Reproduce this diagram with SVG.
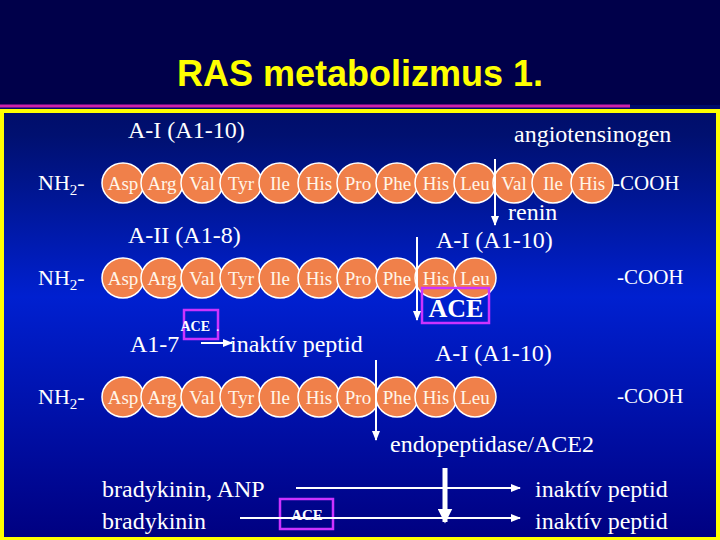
<svg xmlns="http://www.w3.org/2000/svg" width="720" height="540" viewBox="0 0 720 540">
<defs>
<linearGradient id="bg" x1="0" y1="0" x2="0" y2="1"><stop offset="0" stop-color="#000050"/><stop offset="0.25" stop-color="#001070"/><stop offset="0.55" stop-color="#0020d0"/><stop offset="1" stop-color="#000080"/></linearGradient>
<marker id="ah" viewBox="0 0 10 10" refX="9" refY="5" markerWidth="5" markerHeight="5" orient="auto"><path d="M0,1 L10,5 L0,9 z" fill="#fff"/></marker>
<marker id="ahb" viewBox="0 0 10 10" refX="9" refY="5" markerWidth="3" markerHeight="3" orient="auto"><path d="M0,0 L10,5 L0,10 z" fill="#fff"/></marker>
<g id="c"><ellipse cx="0" cy="0" rx="21" ry="20" fill="#f0804a" stroke="#fff" stroke-width="1.5"/></g>
</defs>
<style>
text{fill:#fff;font-family:"Times New Roman",Times,"Liberation Serif","DejaVu Serif",serif}
text.title{font-family:"Liberation Sans",Arial,sans-serif;fill:#ffff00}
.t{font-size:24px}.aa{font-size:19px;text-anchor:middle;fill:#fff5e8}
.l{stroke:#fff;stroke-width:2;fill:none}
.b{fill:none;stroke:#cc33ff;stroke-width:2.5}
</style>
<rect width="720" height="540" fill="url(#bg)"/>
<rect x="0" y="0" width="720" height="105" fill="#00004a"/>
<text class="title" x="360" y="86" font-size="36" font-weight="bold" text-anchor="middle">RAS metabolizmus 1.</text>
<line x1="0" y1="106" x2="630" y2="106" stroke="#cc22aa" stroke-width="3"/>
<rect x="2" y="111" width="716" height="428" fill="none" stroke="#ffff00" stroke-width="4"/>

<g id="row1">
<text x="38" y="190" font-size="22">NH<tspan font-size="15" dy="5">2</tspan><tspan dy="-5">-</tspan></text>
<use href="#c" x="123" y="183"/><use href="#c" x="162" y="183"/><use href="#c" x="202" y="183"/><use href="#c" x="241" y="183"/><use href="#c" x="280" y="183"/><use href="#c" x="319" y="183"/><use href="#c" x="358" y="183"/><use href="#c" x="397" y="183"/><use href="#c" x="436" y="183"/><use href="#c" x="475" y="183"/><use href="#c" x="514" y="183"/><use href="#c" x="553" y="183"/><use href="#c" x="592" y="183"/>
<text class="aa" y="190"><tspan x="123">Asp</tspan><tspan x="162">Arg</tspan><tspan x="202">Val</tspan><tspan x="241">Tyr</tspan><tspan x="280">Ile</tspan><tspan x="319">His</tspan><tspan x="358">Pro</tspan><tspan x="397">Phe</tspan><tspan x="436">His</tspan><tspan x="475">Leu</tspan><tspan x="514">Val</tspan><tspan x="553">Ile</tspan><tspan x="592">His</tspan></text>
<text x="613" y="190" font-size="21">-COOH</text>
</g>
<g id="row2">
<text x="38" y="285" font-size="22">NH<tspan font-size="15" dy="5">2</tspan><tspan dy="-5">-</tspan></text>
<use href="#c" x="123" y="278"/><use href="#c" x="162" y="278"/><use href="#c" x="202" y="278"/><use href="#c" x="241" y="278"/><use href="#c" x="280" y="278"/><use href="#c" x="319" y="278"/><use href="#c" x="358" y="278"/><use href="#c" x="397" y="278"/><use href="#c" x="436" y="278"/><use href="#c" x="475" y="278"/>
<text class="aa" y="285"><tspan x="123">Asp</tspan><tspan x="162">Arg</tspan><tspan x="202">Val</tspan><tspan x="241">Tyr</tspan><tspan x="280">Ile</tspan><tspan x="319">His</tspan><tspan x="358">Pro</tspan><tspan x="397">Phe</tspan><tspan x="436">His</tspan><tspan x="475">Leu</tspan></text>
<text x="617" y="284" font-size="21">-COOH</text>
</g>
<g id="row3">
<text x="38" y="404" font-size="22">NH<tspan font-size="15" dy="5">2</tspan><tspan dy="-5">-</tspan></text>
<use href="#c" x="123" y="397"/><use href="#c" x="162" y="397"/><use href="#c" x="202" y="397"/><use href="#c" x="241" y="397"/><use href="#c" x="280" y="397"/><use href="#c" x="319" y="397"/><use href="#c" x="358" y="397"/><use href="#c" x="397" y="397"/><use href="#c" x="436" y="397"/><use href="#c" x="475" y="397"/>
<text class="aa" y="404"><tspan x="123">Asp</tspan><tspan x="162">Arg</tspan><tspan x="202">Val</tspan><tspan x="241">Tyr</tspan><tspan x="280">Ile</tspan><tspan x="319">His</tspan><tspan x="358">Pro</tspan><tspan x="397">Phe</tspan><tspan x="436">His</tspan><tspan x="475">Leu</tspan></text>
<text x="617" y="403" font-size="21">-COOH</text>
</g>

<g id="labels" class="t">
<text x="128" y="138">A-I (A1-10)</text>
<text x="514" y="142">angiotensinogen</text>
<text x="508" y="220">renin</text>
<text x="128" y="243">A-II (A1-8)</text>
<text x="436" y="248">A-I (A1-10)</text>
<text x="130" y="352">A1-7</text>
<text x="230" y="352">inaktív peptid</text>
<text x="435" y="361">A-I (A1-10)</text>
<text x="390" y="452">endopeptidase/ACE2</text>
<text x="102" y="497">bradykinin, ANP</text>
<text x="102" y="529">bradykinin</text>
<text x="535" y="497">inaktív peptid</text>
<text x="535" y="529">inaktív peptid</text>
</g>
<g id="enzymes">
<rect x="184" y="310" width="34" height="29" class="b"/>
<text x="210" y="331" font-size="14" font-weight="bold" text-anchor="end">ACE</text><text x="216" y="331" font-size="14">.</text>
<rect x="422" y="288" width="67" height="35" class="b"/>
<text x="456" y="317" font-size="26" font-weight="bold" text-anchor="middle">ACE</text>
<rect x="280" y="499" width="53" height="30" class="b"/>
<text x="307" y="520" font-size="15" font-weight="bold" text-anchor="middle">ACE</text>
</g>
<g id="connectors">
<line x1="495" y1="159" x2="495" y2="225" class="l" marker-end="url(#ah)"/>
<line x1="417" y1="237" x2="417" y2="320" class="l" marker-end="url(#ah)"/>
<line x1="376" y1="360" x2="376" y2="440" class="l" marker-end="url(#ah)"/>
<line x1="201" y1="343" x2="232" y2="343" class="l" marker-end="url(#ah)"/>
<line x1="296" y1="488" x2="520" y2="488" class="l" marker-end="url(#ah)"/>
<line x1="240" y1="518" x2="520" y2="518" class="l" marker-end="url(#ah)"/>
<line x1="445" y1="468" x2="445" y2="522" stroke="#fff" stroke-width="5" marker-end="url(#ahb)"/>
</g>
</svg>
